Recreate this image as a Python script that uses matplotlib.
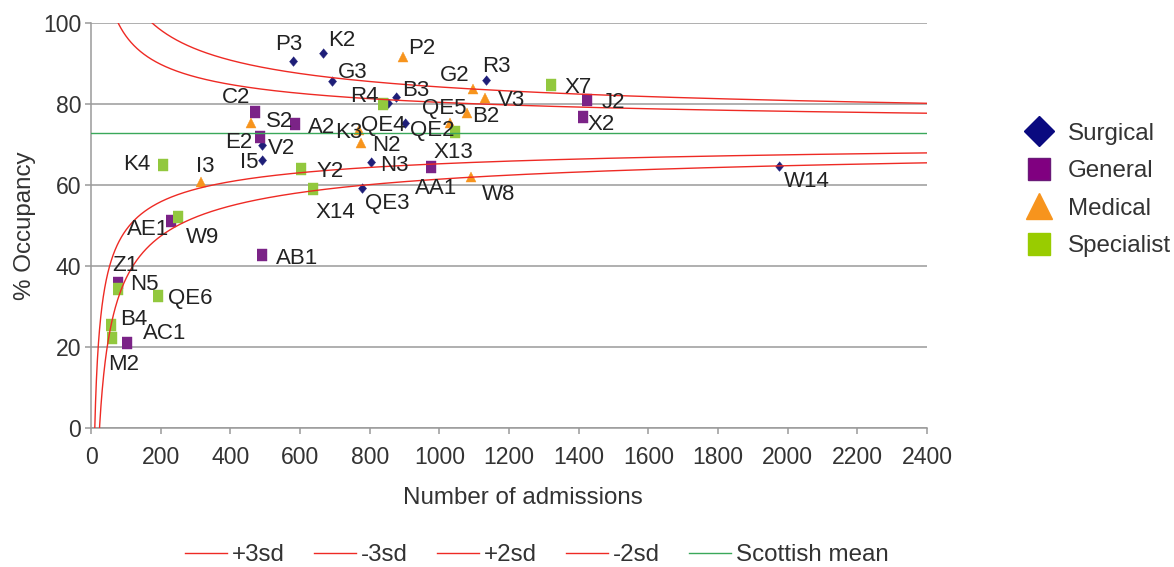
import numpy as np
import matplotlib
matplotlib.use('Agg')
import matplotlib.pyplot as plt
from matplotlib.lines import Line2D

plt.rcParams['font.family'] = ['Liberation Sans', 'DejaVu Sans']

# ---------------- data ----------------
surgical_names = ['P3', 'K2', 'G3', 'B3', 'R3', 'QE4', 'QE2', 'V2', 'I5', 'N3', 'QE3', 'W14']
surgical_adm = [580, 667, 693, 876, 1134, 853, 901, 492, 492, 804, 777, 1975]
surgical_occ = [90.7, 92.6, 85.8, 81.9, 86.0, 80.2, 75.5, 70.0, 66.2, 65.7, 59.3, 64.8]

general_names = ['C2', 'A2', 'E2', 'J2', 'X2', 'AA1', 'AE1', 'AB1', 'Z1', 'AC1']
general_adm = [471, 586, 485, 1423, 1412, 975, 230, 492, 77, 102]
general_occ = [78.0, 75.1, 72.0, 81.1, 76.8, 64.4, 51.3, 42.8, 35.8, 21.1]

medical_names = ['P2', 'G2', 'V3', 'B2', 'QE5', 'W8', 'N2', 'K3', 'S2', 'I3']
medical_adm = [897, 1098, 1131, 1078, 1032, 1090, 775, 769, 459, 316]
medical_occ = [91.8, 83.7, 81.6, 77.8, 75.3, 62.1, 70.4, 73.7, 75.5, 60.9]

specialist_names = ['X7', 'R4', 'X13', 'K4', 'Y2', 'X14', 'W9', 'N5', 'QE6', 'B4', 'M2']
specialist_adm = [1320, 839, 1045, 206, 603, 637, 251, 77, 192, 57, 59]
specialist_occ = [84.8, 80.1, 73.1, 65.0, 64.0, 59.0, 52.1, 34.3, 32.7, 25.5, 22.2]

scottish_mean = 72.9          # % occupancy
sd_coef = 120.0               # standard deviation (%) = sd_coef / sqrt(admissions)
limit_labels = ['+3sd', '-3sd', '+2sd', '-2sd']
limit_z = [3, -3, 2, -2]

x_ticks = list(range(0, 2401, 200))
y_ticks = list(range(0, 101, 20))

# ---------------- styles / positions ----------------
C_SURG = '#1e1e78'
C_GEN = '#7b2387'
C_MED = '#f7941d'
C_SPEC = '#92c83e'
C_RED = '#ee2a24'
C_MEAN = '#3aa85a'
C_GRID = '#9a9a9a'
TXT = '#222222'

# label offsets in pixels (dx to text left edge, dy to text centre; +dy = down)
label_off = {
    'P3': (-18, -19), 'K2': (5, -15), 'G3': (5, -11), 'B3': (6, -8), 'R3': (-4, -16),
    'QE4': (-27, 20), 'QE2': (5, 6), 'V2': (6, 1), 'I5': (-22, 0), 'N3': (9, 1),
    'QE3': (3, 13), 'W14': (5, 13),
    'C2': (-33, -17), 'A2': (13, 1), 'E2': (-35, 4), 'J2': (15, 0), 'X2': (5, 5),
    'AA1': (-16, 19), 'AE1': (-44, 7), 'AB1': (14, 1), 'Z1': (-6, -20), 'AC1': (16, -12),
    'P2': (5, -10), 'G2': (-34, -16), 'V3': (13, 0), 'B2': (6, 1), 'QE5': (-28, -17),
    'W8': (11, 15), 'N2': (11, 0), 'K3': (-24, 0), 'S2': (15, -3), 'I3': (-5, -17),
    'X7': (14, 0), 'R4': (-33, -10), 'X13': (-22, 18), 'K4': (-40, -3), 'Y2': (15, 0),
    'X14': (3, 21), 'W9': (7, 18), 'N5': (12, -7), 'QE6': (10, 0), 'B4': (9, -8),
    'M2': (-3, 24),
}

W, H = 1174, 567
fig = plt.figure(figsize=(W / 100, H / 100), dpi=100)
ax = fig.add_axes([91 / W, 1 - 428.3 / H, 836 / W, 405 / H])

diamond = [(0, 0.5), (0.42, 0), (0, -0.5), (-0.42, 0)]
rect = [(-0.43, -0.5), (0.43, -0.5), (0.43, 0.5), (-0.43, 0.5)]

series = [
    (surgical_names, surgical_adm, surgical_occ, C_SURG, diamond, 7.0),
    (general_names, general_adm, general_occ, C_GEN, rect, 8.4),
    (medical_names, medical_adm, medical_occ, C_MED, '^', 7.2),
    (specialist_names, specialist_adm, specialist_occ, C_SPEC, rect, 8.4),
]
for names, xs, ys, col, mk, ms in series:
    ax.plot(xs, ys, ls='none', marker=mk, ms=ms, color=col, mec=col, mew=0.3, zorder=3)
    for nm, x, y in zip(names, xs, ys):
        dx, dy = label_off[nm]
        ax.annotate(nm, (x, y), xytext=(dx * 0.72, -(dy + 7.8) * 0.72),
                    textcoords='offset points', ha='left', va='baseline',
                    fontsize=16, color=TXT, zorder=5, annotation_clip=False)

# control limits
n = np.linspace(1, 2400, 4000)
for lab, z in zip(limit_labels, limit_z):
    ax.plot(n, scottish_mean + z * sd_coef / np.sqrt(n), color=C_RED, lw=1.0, zorder=4)
ax.plot([0, 2400], [scottish_mean, scottish_mean], color=C_MEAN, lw=1.0, zorder=4)

ax.set_xlim(0, 2400)
ax.set_ylim(0, 100)
ax.set_xticks(x_ticks)
ax.set_yticks(y_ticks)
ax.set_axisbelow(True)
ax.yaxis.grid(True, color=C_GRID, lw=1.1)
for s in ['top', 'right']:
    ax.spines[s].set_visible(False)
for s in ['left', 'bottom']:
    ax.spines[s].set_color(C_GRID)
    ax.spines[s].set_linewidth(1.1)
ax.tick_params(axis='both', length=4, width=1.1, color=C_GRID, labelsize=16.6, labelcolor='#333333')
ax.tick_params(axis='x', pad=9)
ax.tick_params(axis='y', pad=3)

ax.set_xlabel('Number of admissions', fontsize=17.4, color='#333333')
ax.set_ylabel('% Occupancy', fontsize=17.4, color='#333333')
ax.xaxis.set_label_coords(0.5167, -0.145)
ax.yaxis.set_label_coords(-0.066, 0.5)

# right legend (categories)
cat_handles = [
    Line2D([], [], ls='none', marker='D', ms=15, color='#0a0a80'),
    Line2D([], [], ls='none', marker='s', ms=16, color='#800080', mec='#6a1a78'),
    Line2D([], [], ls='none', marker='^', ms=19, color='#f7941d'),
    Line2D([], [], ls='none', marker='s', ms=16, color='#99cc00'),
]
leg1 = fig.legend(cat_handles, ['Surgical', 'General', 'Medical', 'Specialist'],
                  loc='center left', bbox_to_anchor=(1022 / W, 1 - 190 / H),
                  frameon=False, fontsize=17.4, handlelength=1.4, handletextpad=0.5,
                  labelspacing=0.64, borderpad=0, borderaxespad=0)
for t in leg1.get_texts():
    t.set_color('#333333')

# bottom legend (lines)
line_handles = [Line2D([], [], color=C_RED, lw=1.0) for _ in limit_labels]
line_handles.append(Line2D([], [], color=C_MEAN, lw=1.0))
leg2 = fig.legend(line_handles, limit_labels + ['Scottish mean'], loc='center',
                  bbox_to_anchor=(537 / W, 1 - 555 / H), ncol=5, frameon=False,
                  fontsize=17.4, handlelength=1.75, handletextpad=0.2, columnspacing=1.2,
                  borderpad=0, borderaxespad=0)
for t in leg2.get_texts():
    t.set_color('#333333')

fig.savefig('out.png', dpi=100)
